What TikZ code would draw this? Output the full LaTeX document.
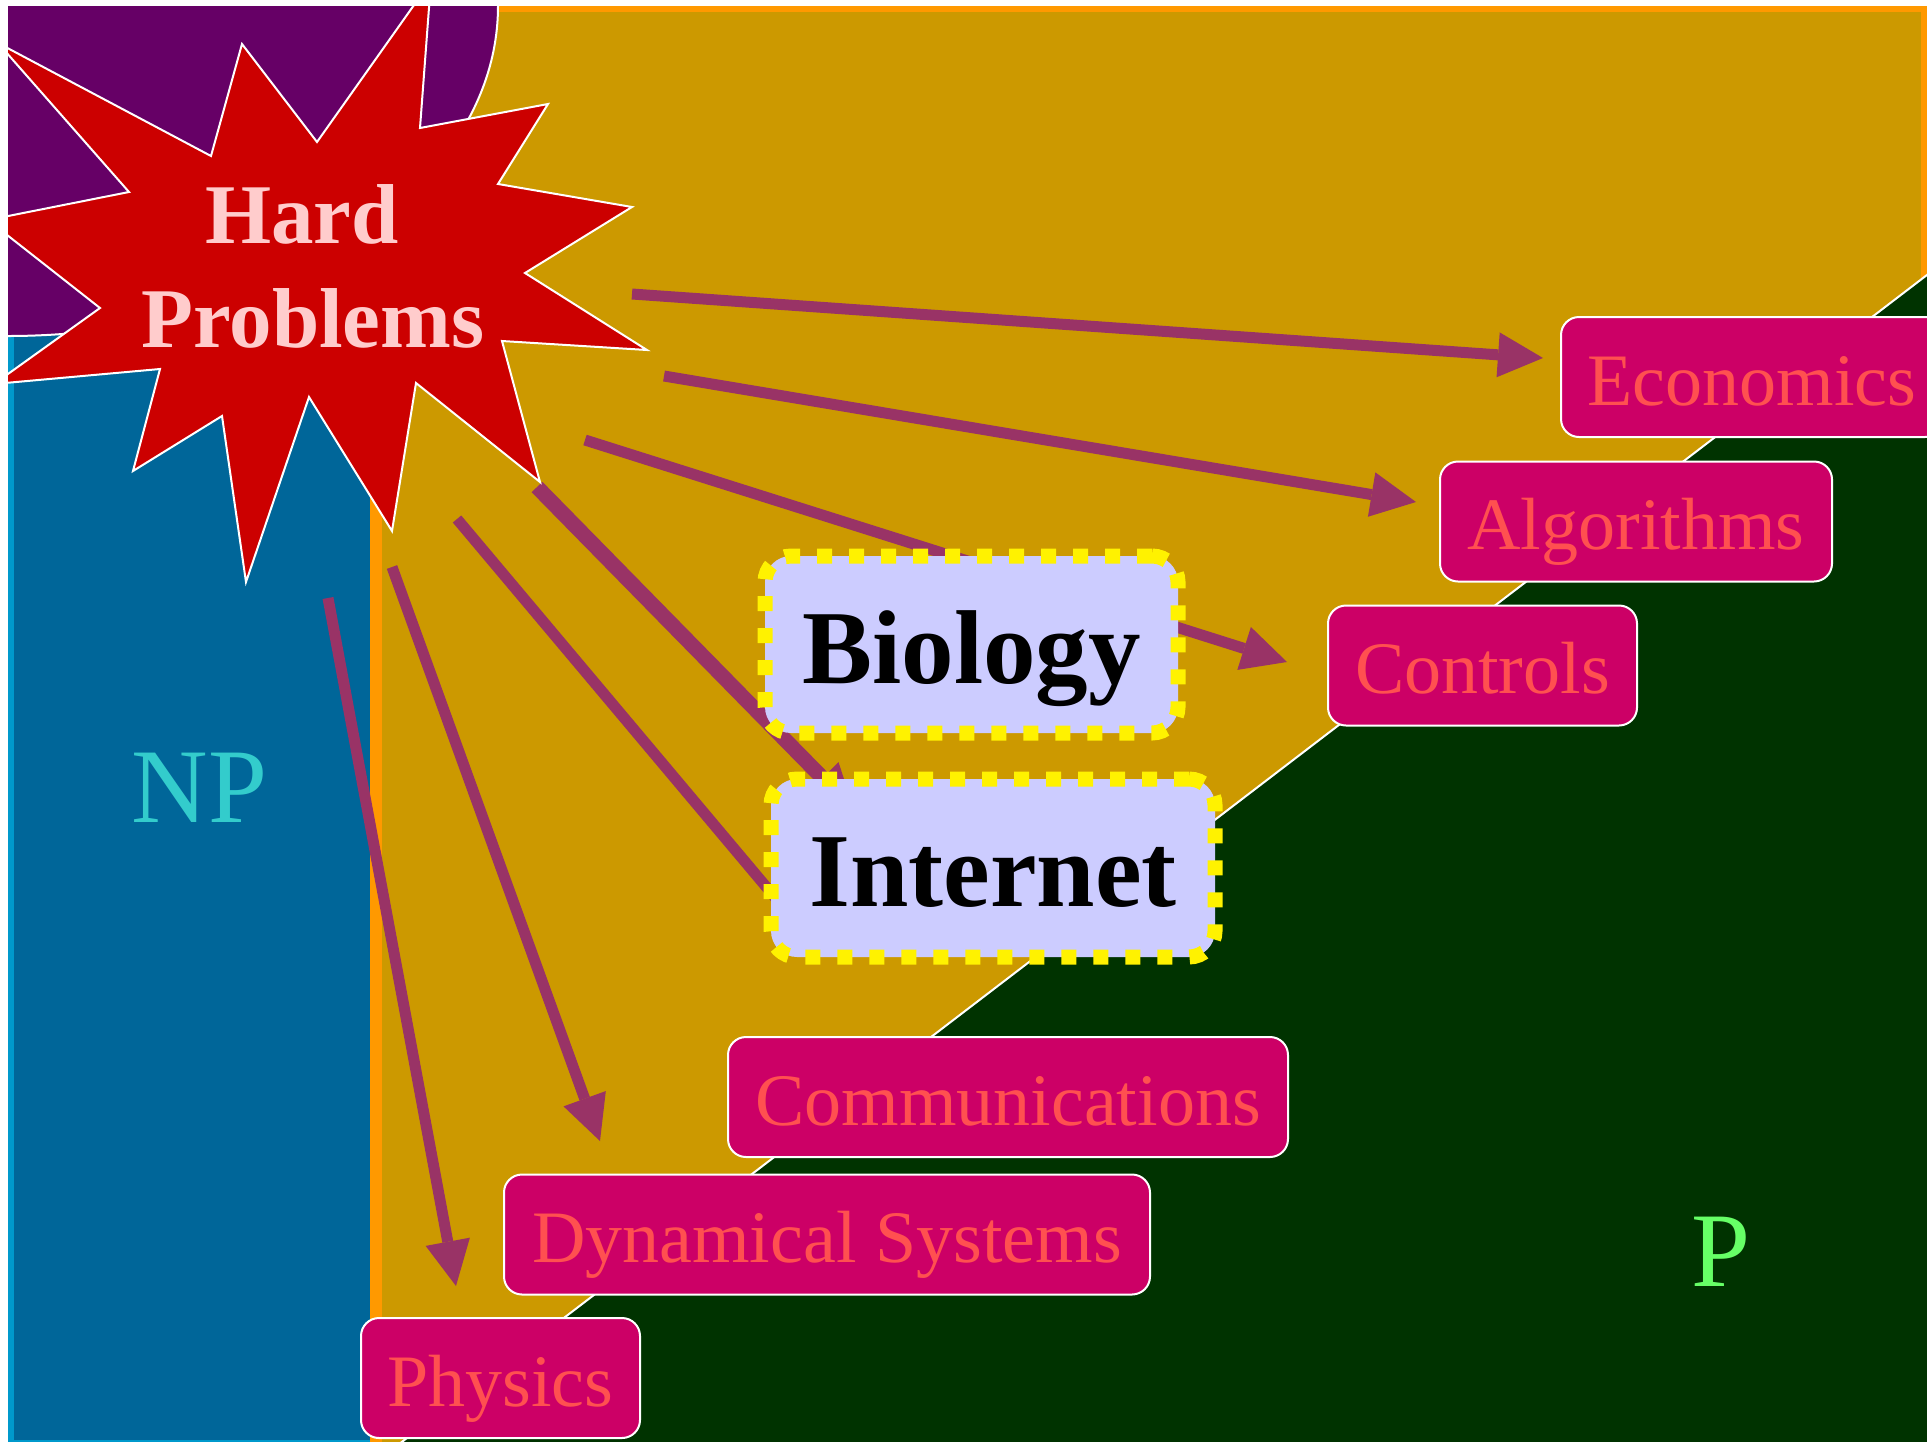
\documentclass[tikz,border=0pt]{standalone}
\usepackage{fontspec}
\setmainfont{Liberation Serif}
\usetikzlibrary{arrows.meta}

\definecolor{npblue}{HTML}{006699}
\definecolor{npedge}{HTML}{0099CC}
\definecolor{goldfill}{HTML}{CC9900}
\definecolor{goldedge}{HTML}{FF9900}
\definecolor{plum}{HTML}{660066}
\definecolor{pregion}{HTML}{003300}
\definecolor{starred}{HTML}{CC0000}
\definecolor{starink}{HTML}{FFCCCC}
\definecolor{fieldfill}{HTML}{CC0066}
\definecolor{fieldink}{HTML}{FF5050}
\definecolor{flowcol}{HTML}{993366}
\definecolor{lav}{HTML}{CCCCFF}
\definecolor{npink}{HTML}{33CCCC}
\definecolor{pink}{HTML}{66FF66}

\begin{document}
\begin{tikzpicture}[x={(1pt,0pt)}, y={(0pt,-1pt)},
  field/.style={rectangle, rounded corners=18pt, fill=fieldfill, draw=white,
    line width=2pt, text=fieldink, font=\fontsize{74pt}{74pt}\selectfont,
    inner sep=0pt, minimum height=120pt, text height=60pt, text depth=4pt},
  hot/.style={rectangle, rounded corners=26pt, fill=lav, draw=yellow,
    line width=15pt, dash pattern=on 15pt off 17pt, text=black,
    font=\bfseries\fontsize{105pt}{105pt}\selectfont,
    inner sep=0pt, text height=80pt, text depth=3pt},
  flow/.style={draw=flowcol, line width=11pt,
    -{Triangle[length=45pt,width=45pt,line width=0pt]}},
  flowbare/.style={draw=flowcol, line width=11pt},
  startext/.style={text=starink, font=\bfseries\fontsize{85pt}{85pt}\selectfont,
    inner sep=0pt, anchor=base},
  classlabel/.style={font=\fontsize{106pt}{106pt}\selectfont, inner sep=0pt, anchor=base}
]
\useasboundingbox (0,0) rectangle (1927,1441);

\begin{scope}
\clip (8,6) rectangle (1927,1441);

% complexity regions
\filldraw[fill=npblue, draw=npedge, line width=12pt] (8,6) rectangle (380,1446);
\filldraw[fill=goldfill, draw=goldedge, line width=12pt] (376,6) rectangle (1927,1470);
\filldraw[fill=pregion, draw=white, line width=2pt]
  (1940,265) -- (390,1451) -- (1940,1451) -- cycle;
\filldraw[fill=plum, draw=white, line width=2pt]
  (8,6) ellipse [x radius=490pt, y radius=330pt];

% arrow end points
\coordinate (econFrom) at (632,294);   \coordinate (econTo) at (1543,358);
\coordinate (algoFrom) at (664,376);   \coordinate (algoTo) at (1416,502);
\coordinate (ctrlFrom) at (585,440);   \coordinate (ctrlTo) at (1287,662);
\coordinate (netFromA) at (537,487);   \coordinate (netToA) at (854,810);
\coordinate (netFromB) at (457,519);   \coordinate (netToB) at (805,933);
\coordinate (dynFrom) at (392,567);    \coordinate (dynTo) at (600,1141);
\coordinate (physFrom) at (328,598);   \coordinate (physTo) at (456,1286);

\draw[flow] (econFrom) -- (econTo);
\draw[flow] (algoFrom) -- (algoTo);
\draw[flow] (ctrlFrom) -- (ctrlTo);
\draw[flow, line width=15pt] (netFromA) -- (netToA);
\draw[flowbare] (netFromB) -- (netToB);
\draw[flow] (dynFrom) -- (dynTo);
\draw[flow] (physFrom) -- (physTo);

% the burst
\filldraw[fill=starred, draw=white, line width=2pt]
  (431,-19) -- (420,128) -- (548,104) -- (498,184) -- (632,207) -- (525,273)
  -- (647,350) -- (502,341) -- (540,482) -- (416,383) -- (392,531) -- (309,397)
  -- (246,582) -- (222,416) -- (133,471) -- (160,369) -- (-6,384) -- (100,308)
  -- (-12,220) -- (129,192) -- (-2,43) -- (211,156) -- (242,44) -- (317,142)
  -- cycle;
\node[startext] (hard) at (302,243) {Hard};
\node[startext] (problems) at (313,347) {Problems};

% application fields
\node[field, minimum width=382pt] (econ) at (1752,377) {Economics};
\node[field, minimum width=392pt] (algo) at (1636,521.5) {Algorithms};
\node[field, minimum width=309pt] (ctrl) at (1482.5,665.5) {Controls};
\node[field, minimum width=560pt] (comm) at (1008,1097) {Communications};
\node[field, minimum width=646pt] (dyn) at (827,1234.5) {Dynamical Systems};
\node[field, minimum width=279pt] (phys) at (500.5,1378) {Physics};

\node[hot, minimum width=413pt, minimum height=177pt] (bio) at (971.5,644.5) {Biology};
\node[hot, minimum width=444pt, minimum height=178pt] (net) at (993,868) {Internet};

% class labels
\node[classlabel, text=npink] (np) at (199.5,822) {NP};
\node[classlabel, text=pink] (p) at (1721,1286) {P};
\end{scope}
\end{tikzpicture}
\end{document}
